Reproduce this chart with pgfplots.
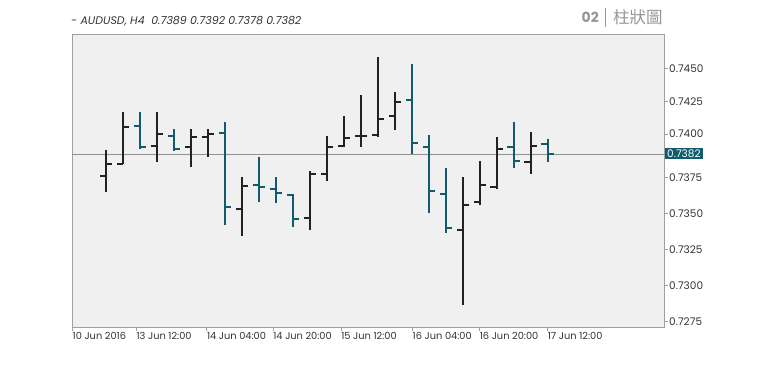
\documentclass[border=0pt]{standalone}
\usepackage{fontspec}
\setmainfont{Poppins}
\newfontfamily\cjk{Noto Sans CJK TC}
\usepackage{pgfplots}
\usepackage{pgfplotstable}
\pgfplotsset{compat=1.18}
\definecolor{tealc}{RGB}{16,92,108}
\definecolor{barblack}{RGB}{34,34,34}
\definecolor{plotbg}{RGB}{240,240,240}
\definecolor{framec}{RGB}{160,160,160}
\definecolor{txt}{RGB}{51,51,51}
\definecolor{hdr}{RGB}{150,150,150}

% bullish bars (close >= open)
\pgfplotstableread{
x O H L C
1 0.73758 0.73938 0.73645 0.73844
2 0.73841 0.74204 0.73841 0.74096
4 0.73968 0.74204 0.73857 0.74049
6 0.73961 0.74084 0.73819 0.74028
7 0.74028 0.74084 0.73888 0.74051
9 0.73530 0.73749 0.73343 0.73691
13 0.73465 0.73795 0.73382 0.73772
14 0.73772 0.74035 0.73726 0.73957
15 0.73966 0.74174 0.73961 0.74021
16 0.74035 0.74319 0.73957 0.74035
17 0.74040 0.74580 0.74030 0.74153
18 0.74176 0.74342 0.74077 0.74273
22 0.73386 0.73753 0.72863 0.73560
23 0.73578 0.73862 0.73555 0.73694
24 0.73680 0.74026 0.73666 0.73943
26 0.73853 0.74065 0.73772 0.73964
}\bull

% bearish bars (close < open)
\pgfplotstableread{
x O H L C
3 0.74105 0.74204 0.73945 0.73961
5 0.74035 0.74084 0.73934 0.73945
8 0.74058 0.74134 0.73419 0.73542
10 0.73696 0.73892 0.73580 0.73684
11 0.73666 0.73753 0.73573 0.73638
12 0.73629 0.73634 0.73403 0.73461
19 0.74285 0.74534 0.73911 0.73985
20 0.73961 0.74040 0.73500 0.73652
21 0.73632 0.73812 0.73362 0.73396
25 0.73957 0.74130 0.73812 0.73864
27 0.73980 0.74012 0.73857 0.73911
}\bear

\begin{document}
\begin{tikzpicture}
\useasboundingbox (0pt,0pt) rectangle (766pt,-370pt);
\begin{axis}[
  at={(72pt,-327pt)}, anchor=south west,
  scale only axis, width=592pt, height=293pt,
  xmin=-0.986, xmax=33.85, ymin=0.727126, ymax=0.747417,
  axis background/.style={fill=plotbg},
  axis line style={framec, line width=0.9pt},
  tick style={framec, line width=0.9pt},
  tick align=outside, major tick length=3.5pt,
  xtick pos=bottom, ytick pos=right, yticklabel pos=right,
  xtick={-0.96,2.8,6.95,10.85,14.85,19.05,23,27},
  xticklabels={10 Jun 2016,13 Jun 12:00,14 Jun 04:00,14 Jun 20:00,15 Jun 12:00,16 Jun 04:00,16 Jun 20:00,17 Jun 12:00},
  ytick={0.7275,0.7300,0.7325,0.7350,0.7375,0.740492,0.742729,0.7450},
  yticklabels={0.7275,0.7300,0.7325,0.7350,0.7375,0.7400,0.7425,0.7450},
  xticklabel style={anchor=north west, xshift=-2pt, font=\fontsize{9.8}{11}\selectfont, text=txt, inner sep=2pt},
  yticklabel style={anchor=west, font=\fontsize{10.5}{12}\selectfont, text=txt, inner sep=1.5pt},
]
\addplot[color=framec!90!black, line width=0.8pt, forget plot] coordinates {(-0.986,0.73911) (33.85,0.73911)};
\coordinate (cp) at (axis cs:33.85,0.73911);
% high-low
\addplot[draw=none, mark=none, forget plot, error bars/.cd, y dir=plus, y explicit, error mark=none,
  error bar style={draw=barblack, line width=2pt, solid}]
  table[x=x, y=L, y error plus expr={\thisrow{H}-\thisrow{L}}] {\bull};
\addplot[draw=none, mark=none, forget plot, error bars/.cd, y dir=plus, y explicit, error mark=none,
  error bar style={draw=tealc, line width=2pt, solid}]
  table[x=x, y=L, y error plus expr={\thisrow{H}-\thisrow{L}}] {\bear};
% open ticks
\addplot[draw=none, mark=none, forget plot, error bars/.cd, x dir=minus, x fixed=0.36, error mark=none,
  error bar style={draw=barblack, line width=2pt, solid}]
  table[x=x, y=O] {\bull};
\addplot[draw=none, mark=none, forget plot, error bars/.cd, x dir=minus, x fixed=0.36, error mark=none,
  error bar style={draw=tealc, line width=2pt, solid}]
  table[x=x, y=O] {\bear};
% close ticks
\addplot[draw=none, mark=none, forget plot, error bars/.cd, x dir=plus, x fixed=0.36, error mark=none,
  error bar style={draw=barblack, line width=2pt, solid}]
  table[x=x, y=C] {\bull};
\addplot[draw=none, mark=none, forget plot, error bars/.cd, x dir=plus, x fixed=0.36, error mark=none,
  error bar style={draw=tealc, line width=2pt, solid}]
  table[x=x, y=C] {\bear};
\end{axis}
\node[fill=tealc, text=white, anchor=west, inner xsep=2.5pt, inner ysep=1.5pt,
  font=\fontsize{10.5}{12}\selectfont] at ([xshift=0.5pt]cp) {0.7382};
\node[anchor=base west, inner sep=0pt, text=txt, font=\itshape\fontsize{11}{12}\selectfont]
  at (71pt,-24pt) {- AUDUSD, H4\ \ 0.7389 0.7392 0.7378 0.7382};
\node[anchor=base east, inner sep=0pt, text=hdr, font=\bfseries\fontsize{14}{16}\selectfont]
  at (599pt,-22.5pt) {02};
\draw[hdr, line width=0.8pt] (605.5pt,-8pt) -- (605.5pt,-27pt);
\node[anchor=base west, inner sep=0pt, text=hdr, font=\cjk\fontsize{16.5}{18}\selectfont]
  at (613pt,-23pt) {柱狀圖};
\end{tikzpicture}
\end{document}
